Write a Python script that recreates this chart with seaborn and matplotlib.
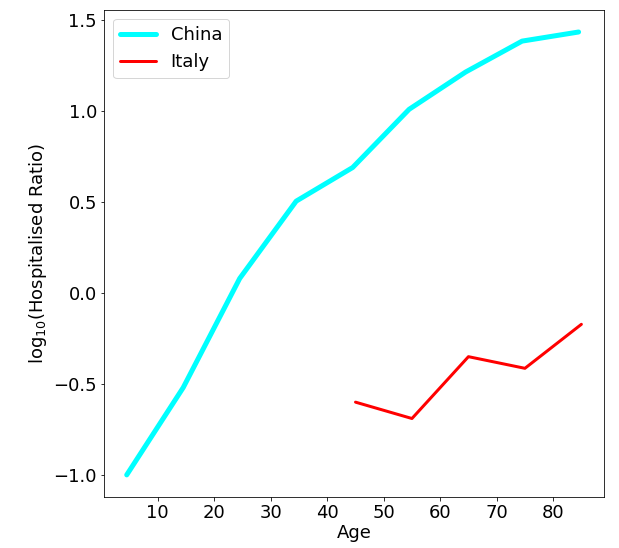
import numpy as np
import pandas as pd
import matplotlib
matplotlib.use('Agg')
import matplotlib.pyplot as plt
import seaborn as sns

# plain matplotlib look, seaborn for the drawing
sns.set_style('ticks', rc={'xtick.major.size': 3.5, 'ytick.major.size': 3.5,
                           'xtick.major.width': 0.8, 'ytick.major.width': 0.8,
                           'axes.edgecolor': 'black', 'axes.linewidth': 0.8,
                           'text.color': 'black', 'axes.labelcolor': 'black',
                           'xtick.color': 'black', 'ytick.color': 'black'})
plt.rcParams['font.family'] = ['DejaVu Sans']

china_age = [4.5, 14.5, 24.5, 34.5, 44.5, 54.5, 64.5, 74.5, 84.5]
china_log = [-1.0, -0.52, 0.08, 0.505, 0.69, 1.01, 1.215, 1.385, 1.435]
italy_age = [45, 55, 65, 75, 85]
italy_log = [-0.60, -0.69, -0.35, -0.414, -0.172]

df = pd.concat([
    pd.DataFrame({'Age': china_age, 'val': china_log, 'Country': 'China'}),
    pd.DataFrame({'Age': italy_age, 'val': italy_log, 'Country': 'Italy'}),
])

fig, ax = plt.subplots(figsize=(619 / 72, 548 / 72), dpi=72)
fig.subplots_adjust(left=0.168, right=0.976, top=0.982, bottom=0.093)

sns.lineplot(data=df, x='Age', y='val', hue='Country',
             palette={'China': 'cyan', 'Italy': 'red'},
             size='Country', sizes={'China': 5, 'Italy': 3},
             ax=ax)

ax.set_xticks([10, 20, 30, 40, 50, 60, 70, 80])
ax.set_yticks([-1.0, -0.5, 0.0, 0.5, 1.0, 1.5])
ax.tick_params(labelsize=18)
ax.set_xlabel('Age', fontsize=18, labelpad=2)
ax.set_ylabel(r'$\mathrm{log_{10}}$(Hospitalised Ratio)', fontsize=18)

h, l = ax.get_legend_handles_labels()
ax.legend(h, l, loc='upper left', fontsize=18, title=None)

plt.savefig('out.png', dpi=72)
